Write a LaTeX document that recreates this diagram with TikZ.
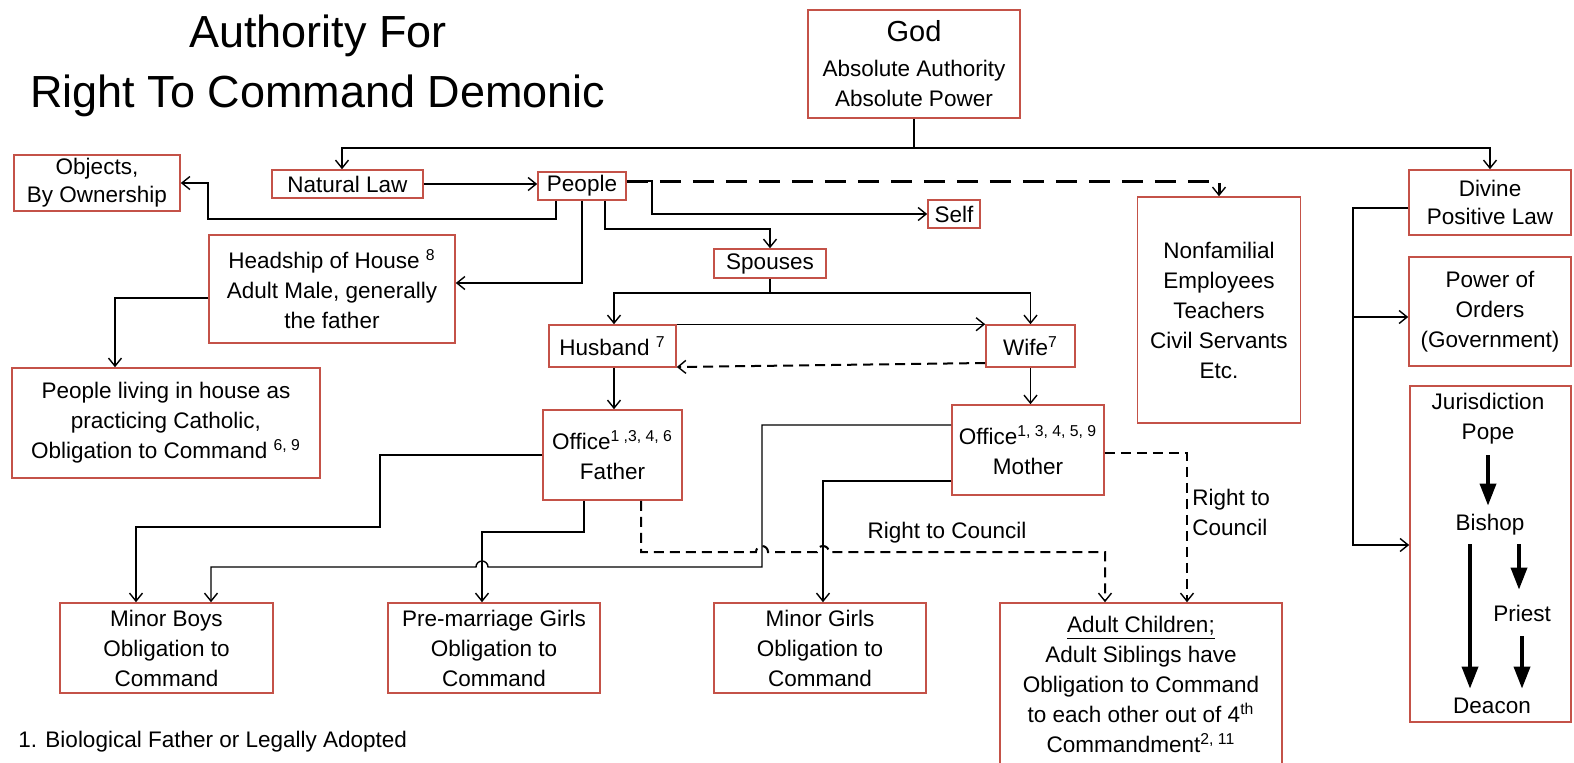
\documentclass[tikz,border=0pt]{standalone}
\usepackage{fontspec}
\setmainfont{Liberation Sans}
\usetikzlibrary{arrows.meta}
\definecolor{boxred}{RGB}{196,82,72}
\tikzset{
  txt/.style={font=\fontsize{11.25}{15}\selectfont, align=center, inner sep=0pt},
  box/.style={txt, draw=boxred, line width=0.8pt},
  sz/.style 2 args={minimum width=#1*0.5pt, minimum height=#2*0.5pt},
  conn/.style={line width=0.7pt},
  arr/.style={conn, -{Straight Barb[length=4pt,width=6.5pt]}},
  dasharr/.style={line width=1pt, dash pattern=on 5pt off 3pt, -{Straight Barb[length=4pt,width=6.5pt,line width=0.7pt]}},
  bigdash/.style={line width=1.5pt, dash pattern=on 10.5pt off 6pt, -{Straight Barb[length=4pt,width=6.5pt,line width=0.7pt]}},
  heavy/.style={line width=1.8pt, -{Triangle[length=11pt,width=8pt]}}
}
\begin{document}
\begin{tikzpicture}[x=0.5pt,y=-0.5pt]
\path[fill=white] (0,0) rectangle (1574,762);
\useasboundingbox (0,0) rectangle (1574,762);

% title
\node[font=\fontsize{22.5}{30}\selectfont, align=center, inner sep=0pt] (title) at (318,66) {Authority For\\Right To Command Demonic};

% nodes
\node[box, sz={212}{108}] (god) at (914,64) {{\fontsize{14.5}{17}\selectfont God}\\[2.5pt]Absolute Authority\\Absolute Power};
\node[box, sz={166}{56}, font=\fontsize{11.25}{14}\selectfont] (objects) at (97,183) {Objects,\\By Ownership};
\node[box, sz={151}{28}] (natlaw) at (347.5,184) {Natural Law};
\node[box, sz={88}{28}] (people) at (582,186) {People};
\node[box, sz={52}{28}] (self) at (954,214) {Self};
\node[box, sz={163}{226}] (nonfam) at (1219,310) {Nonfamilial\\Employees\\Teachers\\Civil Servants\\Etc.};
\node[box, sz={112}{29}] (spouses) at (770,263.5) {Spouses};
\node[box, sz={246}{108}] (headship) at (332,289) {Headship of House \textsuperscript{8}\\Adult Male, generally\\the father};
\node[box, sz={308}{110}] (living) at (166,423) {People living in house as\\practicing Catholic,\\Obligation to Command \textsuperscript{6, 9}};
\node[box, sz={127}{42}] (husband) at (612.5,346) {Husband \textsuperscript{7}};
\node[box, sz={89}{42}] (wife) at (1030.5,346) {Wife\textsuperscript{7}};
\node[box, sz={139}{90}] (father) at (612.5,455) {Office\textsuperscript{1 ,3, 4, 6}\\Father};
\node[box, sz={152}{90}] (mother) at (1028,450) {Office\textsuperscript{1, 3, 4, 5, 9}\\Mother};
\node[box, sz={213}{90}] (boys) at (166.5,648) {Minor Boys\\Obligation to\\Command};
\node[box, sz={212}{90}] (premar) at (494,648) {Pre-marriage Girls\\Obligation to\\Command};
\node[box, sz={212}{90}] (girls) at (820,648) {Minor Girls\\Obligation to\\Command};
\node[box, sz={282}{163}] (adult) at (1141,684.5) {\underline{Adult Children;}\\Adult Siblings have\\Obligation to Command\\to each other out of 4\textsuperscript{th}\\Commandment\textsuperscript{2, 11}};
\node[box, sz={162}{65}, font=\fontsize{11.25}{14}\selectfont] (divine) at (1490,202.5) {Divine\\Positive Law};
\node[box, sz={162}{109}] (power) at (1490,311.5) {Power of\\Orders\\(Government)};
\node[box, sz={161}{336}] (juris) at (1490.5,554) {};
\node[txt, sz={0}{72}] (jtxt) at (1488,419) {Jurisdiction\\Pope};
\node[txt, sz={0}{38}] (bishop) at (1490,525) {Bishop};
\node[txt, sz={0}{46}] (priest) at (1522,613) {Priest};
\node[txt, sz={0}{34}] (deacon) at (1492,706) {Deacon};

% labels
\node[txt] (rc1) at (947,533) {Right to Council};
\node[txt, anchor=west, align=left] (rc2) at (1192,512) {Right to\\Council};
\node[txt, anchor=west] (fn1) at (18,742) {1. Biological Father or Legally Adopted};

% connectors
\draw[arr] (god.south) -- (914,148) -| (natlaw.north -| 342,0);
\draw[arr] (914,148) -| (divine.north);
\draw[arr] (natlaw.east) -- (people.west |- natlaw.east);
\draw[arr] (people.south -| 556,0) |- (208,219) |- (objects.east);
\draw[arr] (people.south) |- (headship.east |- 0,283);
\draw[arr] (headship.west |- 0,298) -| (living.north -| 115,0);
\draw[arr] (people.east |- 0,181) -- (652,181) |- (self.west);
\draw[bigdash] (people.east |- 0,181) -- (1219,181) -- (nonfam.north);
\draw[arr] (people.south -| 605,0) |- (770,229) -- (spouses.north);
\draw[arr] (spouses.south) -- (770,293) -| (husband.north -| 614,0);
\draw[arr] (770,293) -| (wife.north);
\draw[arr] (husband.north east) -- (wife.north west);
\draw[dasharr] (wife.west |- 0,363) -- (husband.east |- 0,367);
\draw[arr] (husband.south -| 614,0) -- (father.north -| 614,0);
\draw[arr] (wife.south) -- (wife.south |- mother.north);
\draw[arr] (father.west) -| (380,527) -| (boys.north -| 136,0);
\draw[arr] (mother.west |- 0,425) -| (762,567) -- (488,567)
  arc[start angle=0, end angle=-180, radius=6] -- (211,567) -- (boys.north -| 211,0);
\draw[arr] (father.south -| 584,0) |- (482,532) -- (premar.north -| 482,0);
\draw[arr] (mother.west |- 0,481) -| (girls.north -| 823,0);
\draw[dasharr] (father.south -| 641,0) |- (756,552)
  arc[start angle=180, end angle=360, radius=6] -- (817,552)
  arc[start angle=180, end angle=360, radius=6] -- (1105,552) -- (adult.north -| 1105,0);
\draw[dasharr] (mother.east |- 0,453) -| (adult.north -| 1187,0);

% right column
\draw[arr] (divine.west |- 0,208) -| (1353,545) -- (juris.west |- 0,545);
\coordinate (bus) at (1353,317);
\draw[arr] (bus) -- (power.west |- bus);
\draw[heavy] (jtxt.south) -- (bishop.north -| jtxt.south);
\draw[heavy] (bishop.south -| 1470,0) -- (deacon.north -| 1470,0);
\draw[heavy] (bishop.south -| 1519,0) -- (priest.north -| 1519,0);
\draw[heavy] (priest.south -| 1522,0) -- (deacon.north -| 1522,0);
\end{tikzpicture}
\end{document}
